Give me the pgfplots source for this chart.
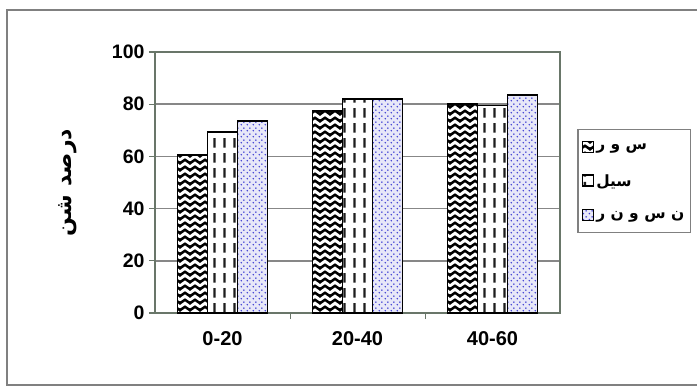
\documentclass[border=0pt]{standalone}
\usepackage{fontspec}
\setmainfont{Liberation Sans}
\newfontfamily\arabicfont[Script=Arabic]{DejaVu Sans}
\TeXXeTstate=1
\usepackage{pgfplots}
\pgfplotsset{compat=1.18}
\usetikzlibrary{patterns}
\definecolor{axgray}{RGB}{105,118,105}
\definecolor{gridgray}{RGB}{135,135,135}
\definecolor{dotblue}{RGB}{60,60,210}
\definecolor{dotbg}{RGB}{232,232,248}
\definecolor{dashgray}{RGB}{30,30,30}

\pgfdeclarepatternformonly{zigzag}{\pgfqpoint{-1pt}{-1pt}}{\pgfqpoint{11pt}{8pt}}{\pgfqpoint{10pt}{7pt}}{
  \pgfsetlinewidth{2.5pt}
  \pgfpathmoveto{\pgfqpoint{-5pt}{5.2pt}}
  \pgfpathlineto{\pgfqpoint{0pt}{1.8pt}}
  \pgfpathlineto{\pgfqpoint{5pt}{5.2pt}}
  \pgfpathlineto{\pgfqpoint{10pt}{1.8pt}}
  \pgfpathlineto{\pgfqpoint{15pt}{5.2pt}}
  \pgfusepath{stroke}
}
\pgfdeclarepatternformonly{vdash}{\pgfqpoint{0pt}{0pt}}{\pgfqpoint{10pt}{15pt}}{\pgfqpoint{10pt}{15pt}}{
  \pgfsetlinewidth{2.6pt}
  \pgfpathmoveto{\pgfqpoint{5pt}{2.5pt}}
  \pgfpathlineto{\pgfqpoint{5pt}{12.5pt}}
  \pgfusepath{stroke}
}
\pgfdeclarepatternformonly{bdots}{\pgfqpoint{0pt}{0pt}}{\pgfqpoint{6pt}{6pt}}{\pgfqpoint{6pt}{6pt}}{
  \pgfpathcircle{\pgfqpoint{1.5pt}{1.5pt}}{0.95pt}
  \pgfpathcircle{\pgfqpoint{4.5pt}{4.5pt}}{0.95pt}
  \pgfusepath{fill}
}

\begin{document}
\begin{tikzpicture}
\useasboundingbox (0pt,0pt) rectangle (697pt,389pt);
\draw[gray, line width=1.5pt] (7pt,4pt) rectangle (702pt,379pt);
\begin{axis}[
  at={(155pt,76pt)}, anchor=south west,
  scale only axis, width=405pt, height=261pt,
  ymin=0, ymax=100, ytick={0,20,40,60,80,100},
  xmin=-0.5, xmax=2.5,
  xtick={0.5,1.5}, xticklabels={},
  xtick pos=lower, ytick pos=left,
  major x tick style={draw=axgray, line width=1pt},
  extra x ticks={0,1,2}, extra x tick labels={0-20,20-40,40-60},
  extra x tick style={major tick length=0pt, xmajorgrids=false,
    xticklabel style={font=\fontsize{20}{20}\selectfont\bfseries, yshift=-15pt}},
  ybar=0pt, bar width=30pt,
  ymajorgrids, grid style={gridgray, line width=1.6pt},
  axis line style={axgray, line width=1.6pt},
  ytick style={axgray, line width=1.2pt},
  tick align=outside, major tick length=6pt,
  yticklabel style={font=\fontsize{19.5}{19.5}\selectfont\bfseries, xshift=-1pt},
  /pgf/number format/assume math mode=true,
  ylabel={\arabicfont\bfseries\fontsize{22}{22}\selectfont\beginR درصد شن\endR},
  ylabel style={at={(axis description cs:-0.215,0.5)}, anchor=center},
  legend style={at={(axis description cs:1.042,0.705)}, anchor=north west,
    draw=gray, line width=1.5pt, inner xsep=4pt, inner ysep=11pt,
    row sep=19pt, font=\arabicfont\bfseries\fontsize{15.5}{15.5}\selectfont,
    legend cell align=left},
  legend image code/.code={\draw[#1, line width=1.5pt] (0pt,-5pt) rectangle (11pt,6pt);},
]
\addplot[draw=black, line width=1.8pt, fill=white, postaction={pattern=zigzag, pattern color=black}]
  coordinates {(0,60.5) (1,77.5) (2,80)};
\addlegendentry{\beginR س و ر\endR}
\addplot[draw=black, line width=1.8pt, fill=white, postaction={pattern=vdash, pattern color=dashgray}]
  coordinates {(0,69.5) (1,82) (2,79.5)};
\addlegendentry{\beginR سیل\endR}
\addplot[draw=black, line width=1.8pt, fill=dotbg, postaction={pattern=bdots, pattern color=dotblue}]
  coordinates {(0,73.5) (1,82) (2,83.5)};
\addlegendentry{\beginR ن س و ن ر\endR}
\end{axis}
\end{tikzpicture}
\end{document}
